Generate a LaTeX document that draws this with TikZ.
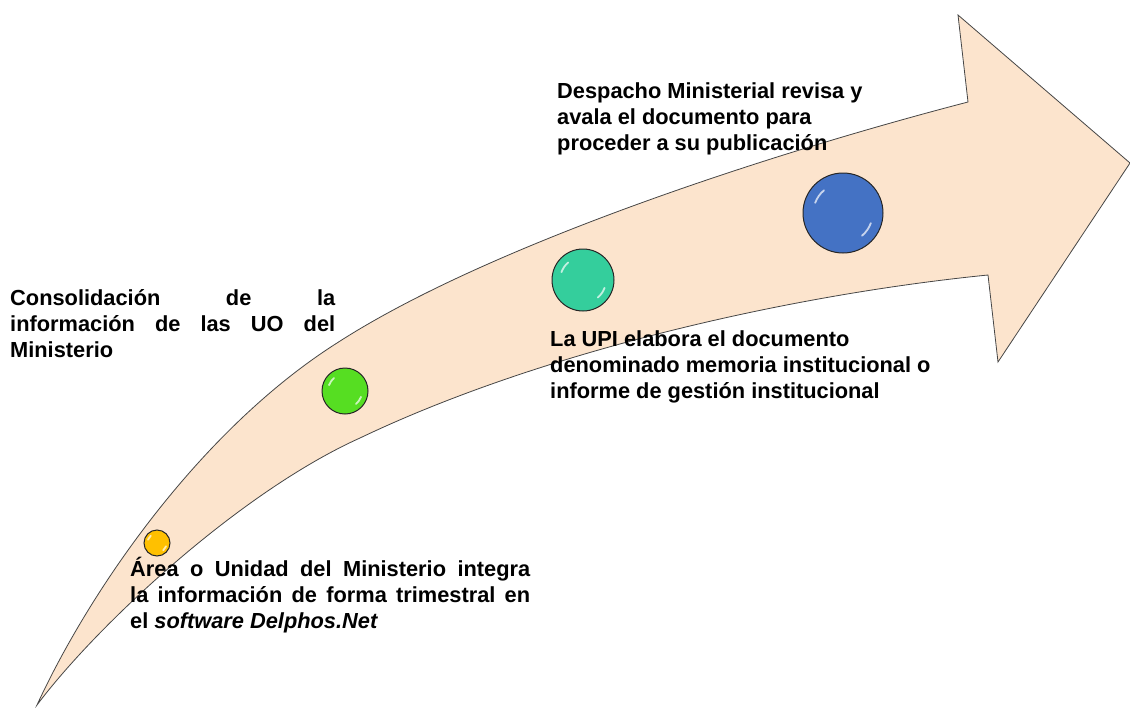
\documentclass[tikz,border=0pt]{standalone}
\usepackage{fontspec}
\setmainfont{Liberation Sans}
\definecolor{arrowfill}{RGB}{252,228,205}
\definecolor{arrowline}{RGB}{70,70,70}
\definecolor{stepgold}{RGB}{255,192,0}
\definecolor{stepgreen}{RGB}{86,222,34}
\definecolor{stepteal}{RGB}{52,206,156}
\definecolor{stepblue}{RGB}{68,114,196}

\tikzset{
  body/.style={fill=arrowfill, draw=arrowline, line width=0.8pt, line join=miter},
  ball/.style={circle, draw=black!85, line width=1pt, inner sep=0pt, minimum size={2*#1*1pt},
    path picture={
      \draw[white, opacity=0.7, line width=1.8pt, line cap=round]
        ([shift={(-160:0.74*#1)}]path picture bounding box.center) arc[start angle=-160, end angle=-130, radius=0.74*#1];
      \draw[white, opacity=0.7, line width=1.8pt, line cap=round]
        ([shift={(20:0.74*#1)}]path picture bounding box.center) arc[start angle=20, end angle=50, radius=0.74*#1];
    }},
  lbl/.style={inner sep=0pt, anchor=north west, align=left, font=\bfseries\fontsize{21.8}{26}\selectfont},
}

\begin{document}
\begin{tikzpicture}[x=1pt, y=-1pt]
  \useasboundingbox (0,0) rectangle (1130,707);

  % curved arrow
  \draw[body] (37,705) .. controls (90,590) and (200,430) .. (337,343)
    .. controls (487,246) and (768,154) .. (968,102)
    -- (958,15) -- (1130,163) -- (998,362) -- (988,275)
    .. controls (788,295) and (540,352) .. (360,438)
    .. controls (240,492) and (97,625) .. (37,705) -- cycle;

  % steps
  \node[ball=13, fill=stepgold] (s1) at (157,543) {};
  \node[ball=23, fill=stepgreen] (s2) at (345,391) {};
  \node[ball=31, fill=stepteal] (s3) at (583,280) {};
  \node[ball=40, fill=stepblue] (s4) at (843,213) {};

  % texts
  \node[lbl] (t1) at (130,557) {\makebox[400pt][s]{Área o Unidad del Ministerio integra}\\
    \makebox[400pt][s]{la información de forma trimestral en}\\
    el \textit{software Delphos.Net}};
  \node[lbl] (t2) at (10,289) {\makebox[325pt][s]{Consolidación de la}\\
    \makebox[325pt][s]{información de las UO del}\\
    Ministerio};
  \node[lbl] (t3) at (550,330) {La UPI elabora el documento\\
    denominado memoria institucional o\\
    informe de gestión institucional};
  \node[lbl] (t4) at (557,83) {Despacho Ministerial revisa y\\
    avala el documento para\\
    proceder a su publicación};
\end{tikzpicture}
\end{document}
